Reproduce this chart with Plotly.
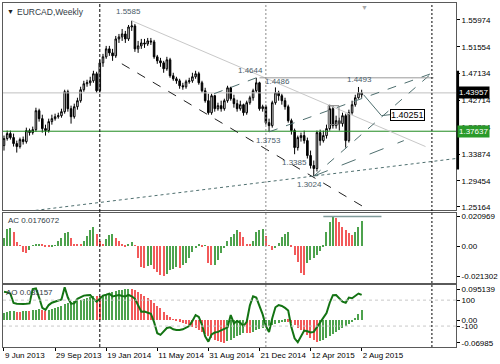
import plotly.graph_objects as go

# ---------------- data ----------------
bars = list(range(113))  # weekly bars starting 9 Jun 2013

open_ = [1.3527, 1.3643, 1.3725, 1.3659, 1.3560, 1.3511, 1.3626, 1.3593, 1.3774, 1.3741,
         1.3790, 1.4102, 1.3971, 1.3807, 1.3774, 1.3922, 1.3971, 1.4003, 1.4020, 1.4086,
         1.4415, 1.4135, 1.4003, 1.4168, 1.4267, 1.4448, 1.4546, 1.4562, 1.4595, 1.4711,
         1.4431, 1.4891, 1.4990, 1.5121, 1.5055, 1.5006, 1.5285, 1.5318, 1.5367, 1.5285,
         1.5482, 1.5499, 1.5121, 1.5170, 1.5219, 1.5203, 1.5252, 1.5236, 1.4990, 1.4924,
         1.4891, 1.4793, 1.4941, 1.4678, 1.4628, 1.4595, 1.4513, 1.4497, 1.4579, 1.4595,
         1.4661, 1.4711, 1.4562, 1.4431, 1.4267, 1.4069, 1.4349, 1.4135, 1.4185, 1.4135,
         1.4267, 1.4480, 1.4300, 1.4218, 1.4135, 1.4201, 1.4069, 1.4234, 1.4316, 1.4431,
         1.4562, 1.4135, 1.4168, 1.3905, 1.3856, 1.4234, 1.4398, 1.4349, 1.4267, 1.4168,
         1.3938, 1.3774, 1.3494, 1.3659, 1.3692, 1.3609, 1.3363, 1.3199, 1.3149, 1.3741,
         1.3609, 1.3692, 1.3807, 1.4135, 1.3856, 1.3938, 1.3889, 1.4020, 1.3609, 1.4069,
         1.4201, 1.4316, 1.4365]

close = [1.3643, 1.3725, 1.3659, 1.3560, 1.3511, 1.3626, 1.3593, 1.3774, 1.3741, 1.3790,
         1.4102, 1.3971, 1.3807, 1.3774, 1.3922, 1.3971, 1.4003, 1.4020, 1.4086, 1.4415,
         1.4135, 1.4003, 1.4168, 1.4267, 1.4448, 1.4546, 1.4562, 1.4595, 1.4711, 1.4431,
         1.4891, 1.4990, 1.5121, 1.5055, 1.5006, 1.5285, 1.5318, 1.5367, 1.5285, 1.5482,
         1.5499, 1.5121, 1.5170, 1.5219, 1.5203, 1.5252, 1.5236, 1.4990, 1.4924, 1.4891,
         1.4793, 1.4941, 1.4678, 1.4628, 1.4595, 1.4513, 1.4497, 1.4579, 1.4595, 1.4661,
         1.4711, 1.4562, 1.4431, 1.4267, 1.4069, 1.4349, 1.4135, 1.4185, 1.4135, 1.4267,
         1.4480, 1.4300, 1.4218, 1.4135, 1.4201, 1.4069, 1.4234, 1.4316, 1.4431, 1.4562,
         1.4135, 1.4168, 1.3905, 1.3856, 1.4234, 1.4398, 1.4349, 1.4267, 1.4168, 1.3938,
         1.3774, 1.3494, 1.3659, 1.3692, 1.3609, 1.3363, 1.3199, 1.3149, 1.3741, 1.3609,
         1.3692, 1.3807, 1.4135, 1.3856, 1.3938, 1.3889, 1.4020, 1.3609, 1.4069, 1.4201,
         1.4316, 1.4398, 1.43957]

high = [1.3692, 1.3774, 1.3774, 1.3725, 1.3609, 1.3659, 1.3676, 1.3823, 1.3807, 1.3840,
        1.4151, 1.4135, 1.4036, 1.3872, 1.3971, 1.4036, 1.4053, 1.4069, 1.4135, 1.4448,
        1.4448, 1.4185, 1.4218, 1.4316, 1.4497, 1.4595, 1.4612, 1.4661, 1.4760, 1.4744,
        1.4941, 1.5039, 1.5170, 1.5170, 1.5121, 1.5334, 1.5367, 1.5449, 1.5417, 1.5515,
        1.5585, 1.5532, 1.5252, 1.5285, 1.5285, 1.5301, 1.5301, 1.5269, 1.5022, 1.4973,
        1.4924, 1.4990, 1.4973, 1.4727, 1.4661, 1.4628, 1.4562, 1.4612, 1.4645, 1.4727,
        1.4760, 1.4744, 1.4595, 1.4480, 1.4382, 1.4382, 1.4365, 1.4234, 1.4267, 1.4300,
        1.4513, 1.4497, 1.4365, 1.4283, 1.4267, 1.4218, 1.4267, 1.4349, 1.4464, 1.4644,
        1.4579, 1.4201, 1.4201, 1.3971, 1.4267, 1.4486, 1.4431, 1.4382, 1.4316, 1.4201,
        1.3971, 1.3807, 1.3692, 1.3741, 1.3774, 1.3659, 1.3445, 1.3281, 1.3774, 1.3790,
        1.3774, 1.3872, 1.4201, 1.4185, 1.4020, 1.3987, 1.4069, 1.4053, 1.4119, 1.4267,
        1.4365, 1.4493, 1.4448]

low = [1.3445, 1.3609, 1.3626, 1.3511, 1.3412, 1.3478, 1.3544, 1.3560, 1.3692, 1.3708,
       1.3757, 1.3922, 1.3741, 1.3692, 1.3741, 1.3872, 1.3938, 1.3971, 1.3987, 1.4053,
       1.4086, 1.3889, 1.3971, 1.4119, 1.4234, 1.4415, 1.4497, 1.4513, 1.4562, 1.4398,
       1.4398, 1.4825, 1.4957, 1.5006, 1.4924, 1.4973, 1.5219, 1.5252, 1.5219, 1.5252,
       1.5417, 1.5072, 1.5055, 1.5121, 1.5137, 1.5170, 1.5186, 1.4957, 1.4875, 1.4825,
       1.4727, 1.4760, 1.4645, 1.4595, 1.4546, 1.4464, 1.4448, 1.4464, 1.4546, 1.4562,
       1.4628, 1.4530, 1.4398, 1.4234, 1.4036, 1.4036, 1.4086, 1.4102, 1.4086, 1.4102,
       1.4234, 1.4267, 1.4152, 1.4086, 1.4102, 1.4020, 1.4036, 1.4201, 1.4267, 1.4398,
       1.4102, 1.4086, 1.3872, 1.3753, 1.3823, 1.4201, 1.4267, 1.4201, 1.4119, 1.3905,
       1.3708, 1.3385, 1.3445, 1.3593, 1.3560, 1.3314, 1.3149, 1.3024, 1.3100, 1.3527,
       1.3577, 1.3643, 1.3774, 1.3807, 1.3807, 1.3774, 1.3840, 1.3494, 1.3577, 1.4036,
       1.4168, 1.4300, 1.4316]

ac = [0.0055, 0.0118, 0.0127, 0.0096, 0.0029, 0.0004, -0.0042, -0.0054, -0.0030, 0.0002,
      0.0008, 0.0015, 0.0010, -0.0008, -0.0012, -0.0010, 0.0003, 0.0035, 0.0055, 0.0090,
      0.0095, 0.0055, 0.0012, 0.0010, 0.0008, 0.0030, 0.0068, 0.0110, 0.0135, 0.0080,
      0.0030, 0.0012, 0.0045, 0.0075, 0.0085, 0.0055, 0.0030, 0.0008, -0.0005, 0.0012,
      0.0024, 0.0002, -0.0086, -0.0150, -0.0160, -0.0145, -0.0140, -0.0165, -0.0185, -0.0205,
      -0.0215, -0.0200, -0.0175, -0.0165, -0.0150, -0.0160, -0.0140, -0.0123, -0.0090, -0.0045,
      -0.0015, 0.0010, -0.0008, -0.0002, -0.0120, -0.0140, -0.0135, -0.0100, -0.0050, -0.0015,
      0.0030, 0.0060, 0.0085, 0.0108, 0.0095, 0.0058, 0.0010, 0.0005, 0.0035, 0.0095,
      0.0110, 0.0115, 0.0065, 0.0002, -0.0030, -0.0020, 0.0016, 0.0060, 0.0080, 0.0094,
      -0.0010, -0.0066, -0.0113, -0.0190, -0.0206, -0.0125, -0.0100, -0.0087, -0.0066, -0.0040,
      -0.0007, 0.0099, 0.0170, 0.0205, 0.0195, 0.0170, 0.0135, 0.0110, 0.0087, 0.0075,
      0.0099, 0.0133, 0.0176072]

ao = [0.020, 0.024, 0.027, 0.028, 0.026, 0.025, 0.027, 0.029, 0.028, 0.030,
      0.032, 0.034, 0.031, 0.028, 0.030, 0.033, 0.036, 0.040, 0.044, 0.048,
      0.052, 0.055, 0.058, 0.060, 0.062, 0.064, 0.066, 0.070, 0.075, 0.074,
      0.073, 0.076, 0.080, 0.083, 0.086, 0.089, 0.091, 0.093, 0.095, 0.095139,
      0.094, 0.091, 0.086, 0.080, 0.073, 0.067, 0.060, 0.052, 0.044, 0.036,
      0.026, 0.016, 0.008, 0.002, -0.003, -0.006, -0.010, -0.012, -0.015, -0.020,
      -0.026, -0.032, -0.038, -0.044, -0.050, -0.055, -0.060, -0.064, -0.067, -0.069,
      -0.065, -0.060, -0.055, -0.050, -0.045, -0.039, -0.040, -0.041, -0.036, -0.032,
      -0.028, -0.024, -0.020, -0.017, -0.015, -0.012, -0.009, -0.007, -0.005, -0.006,
      -0.010, -0.016, -0.023, -0.030, -0.038, -0.046, -0.054, -0.061, -0.066, -0.064,
      -0.060, -0.055, -0.049, -0.043, -0.037, -0.031, -0.025, -0.019, -0.013, -0.007,
      0.004, 0.018, 0.031157]

cci = [164, 160, 150, 78, 72, 70, 70, 72, 75, 185,
       190, 120, 40, 25, 62, 80, 90, 95, 105, 200,
       120, 72, 75, 110, 125, 135, 138, 140, 110, 88,
       110, 135, 142, 150, 128, 135, 140, 132, 128, 140,
       130, 110, 60, 10, 12, 5, -5, -70, -155, -168,
       -140, -115, -110, -125, -130, -131, -125, -110, -100, -60,
       -15, -30, -90, -180, -220, -165, -150, -145, -135, -125,
       -110, -15, -80, -60, -75, -100, -67, 60, 130, 120,
       60, -10, -100, -146, -40, 45, 62, 55, 40, 20,
       -110, -195, -225, -175, -135, -140, -150, -145, -110, -70,
       -40, 0, 80, 138, 140, 110, 88, 80, 120, 115,
       135, 151, 140]

tick_bars = [0, 16, 32, 48, 64, 80, 96, 112]
tick_text = ["9 Jun 2013", "29 Sep 2013", "19 Jan 2014", "11 May 2014",
             "31 Aug 2014", "21 Dec 2014", "12 Apr 2015", "2 Aug 2015"]

price_ticks = [1.55974, 1.51554, 1.47134, 1.42714, 1.38294, 1.33874, 1.29454, 1.25164]
ac_ticks = [0.020969, 0.0, -0.021302]
ac_tick_text = ["0.020969", "0.00", "-0.021302"]
ao_ticks = [0.095139, 0.0, -0.06985]
ao_tick_text = ["0.095139", "0.00", "-0.06985"]
cci_levels = [100, -100]

bid_price = 1.43957
green_level = 1.37637
separators = [30, 82, 134]  # year boundaries

# extremes marked on chart: (bar, price, label)
extremes = [(40, 1.5585, "1.5585"), (79, 1.4644, "1.4644"), (85, 1.4486, "1.4486"),
            (111, 1.4493, "1.4493"), (83, 1.3753, "1.3753"), (91, 1.3385, "1.3385"),
            (97, 1.3024, "1.3024")]

# drawn objects (bar, price) endpoints
trend_lines = [
    ((40, 1.5585), (132, 1.3511), "#c8c8c8", "solid", 1),
    ((36.9, 1.4875), (112.9, 1.2508), "#202020", "dash", 1),
    ((9.85, 1.2459), (141.5, 1.3314), "#4f6f6f", "dot", 1),
    ((65.8, 1.4382), (79, 1.4644), "#4f6f6f", "dash", 1),
    ((83, 1.3753), (134.5, 1.4727), "#4f6f6f", "dash", 1),
    ((97, 1.3024), (134.5, 1.4745), "#4f6f6f", "dash", 1),
    ((97, 1.3024), (125.2, 1.3609), "#4f6f6f", "longdash", 1),
    ((80, 1.4644), (134.5, 1.4644), "#9a9a9a", "solid", 1),
]
target_path = [(112.6, 1.4365), (118.2, 1.4020), (120.9, 1.4037)]
target_label = "1.40251"
box_bars = (101.5, 104.9)
box_prices = (1.3873, 1.4184)
ac_level_bars = (100, 118.2)

# ---------------- layout helpers ----------------
W, H = 500, 364
ML, MR, MT, MB = 2, 37, 2, 17
PW, PH = W - ML - MR, H - MT - MB
FONT = "Liberation Sans, Arial, sans-serif"
LBL = "#4a5c6a"


def dom(top_px, bot_px):
    return [(H - MB - bot_px) / PH, (H - MB - top_px) / PH]


def px_x(px):
    return (px - ML) / PW


x_range = [-0.31, 141.54]
main_range = [1.2459, 1.5877]
ac_range = [-0.02625, 0.02308]
ao_range = [-0.0822, 0.1072]
cci_range = [-261.5, 215.4]

GREEN, RED = "#4da24d", "#f25a5a"
ac_col = [GREEN if i == 0 or ac[i] >= ac[i - 1] else RED for i in range(len(ac))]
ao_col = [GREEN if i == 0 or ao[i] >= ao[i - 1] else RED for i in range(len(ao))]

fig = go.Figure()
fig.add_trace(go.Candlestick(
    x=bars, open=open_, high=high, low=low, close=close,
    increasing=dict(line=dict(color="black", width=1), fillcolor="white"),
    decreasing=dict(line=dict(color="black", width=1), fillcolor="black"),
    whiskerwidth=0, xaxis="x", yaxis="y", hoverinfo="skip", showlegend=False))
fig.add_trace(go.Bar(x=bars, y=ac, marker=dict(color=ac_col, line_width=0), width=0.36,
                     xaxis="x2", yaxis="y2", hoverinfo="skip", showlegend=False))
fig.add_trace(go.Bar(x=bars, y=ao, marker=dict(color=ao_col, line_width=0), width=0.36,
                     xaxis="x3", yaxis="y3", hoverinfo="skip", showlegend=False))
fig.add_trace(go.Scatter(x=bars, y=cci, mode="lines", line=dict(color="#137313", width=2),
                         xaxis="x3", yaxis="y4", hoverinfo="skip", showlegend=False))
fig.add_trace(go.Scatter(x=[p[0] for p in target_path], y=[p[1] for p in target_path],
                         mode="lines", line=dict(color="#4f6f6f", width=1),
                         xaxis="x", yaxis="y", hoverinfo="skip", showlegend=False))

frame = dict(showgrid=False, zeroline=False, showline=True, mirror=True,
             linecolor="#5a5a5a", linewidth=1)
tickf = dict(family=FONT, size=8, color="black")

fig.update_layout(
    width=W, height=H, margin=dict(l=ML, r=MR, t=MT, b=MB),
    paper_bgcolor="white", plot_bgcolor="white", showlegend=False,
    hovermode=False, bargap=0, font=dict(family=FONT, size=8, color="black"),
    xaxis=dict(domain=[0, 1], range=x_range, anchor="y", showticklabels=False,
               rangeslider=dict(visible=False), **frame),
    xaxis2=dict(domain=[0, 1], range=x_range, anchor="y2", matches="x",
                showticklabels=False, **frame),
    xaxis3=dict(domain=[0, 1], range=x_range, anchor="y3", matches="x",
                tickmode="array", tickvals=tick_bars, ticktext=tick_text,
                ticks="outside", ticklen=3, tickcolor="black", tickangle=0,
                ticklabelposition="outside right", tickfont=tickf, **frame),
    yaxis=dict(domain=dom(MT, 210), range=main_range, side="right", anchor="x",
               tickmode="array", tickvals=price_ticks,
               ticktext=[f"{v:.5f}" for v in price_ticks],
               ticks="outside", ticklen=3, tickcolor="black", tickfont=tickf, **frame),
    yaxis2=dict(domain=dom(213, 283), range=ac_range, side="right", anchor="x2",
                tickmode="array", tickvals=ac_ticks, ticktext=ac_tick_text,
                ticks="outside", ticklen=3, tickcolor="black", tickfont=tickf, **frame),
    yaxis3=dict(domain=dom(285, H - MB), range=ao_range, side="right", anchor="x3",
                tickmode="array", tickvals=ao_ticks, ticktext=ao_tick_text,
                ticks="outside", ticklen=3, tickcolor="black", tickfont=tickf, **frame),
    yaxis4=dict(range=cci_range, overlaying="y3", side="right", anchor="x3",
                tickmode="array", tickvals=cci_levels,
                ticktext=[str(v) for v in cci_levels],
                ticks="outside", ticklen=3, tickcolor="black", tickfont=tickf,
                showgrid=False, zeroline=False, showline=False),
)

shapes = []
shapes.append(dict(type="line", xref="x domain", x0=0, x1=1, yref="y", y0=bid_price, y1=bid_price,
                   line=dict(color="#c0c0c0", width=1)))
shapes.append(dict(type="line", xref="x domain", x0=0, x1=1, yref="y", y0=green_level, y1=green_level,
                   line=dict(color="#1e8a1e", width=1)))
for (a, b, col, dash, w) in trend_lines:
    shapes.append(dict(type="line", xref="x", yref="y", x0=a[0], y0=a[1], x1=b[0], y1=b[1],
                       line=dict(color=col, width=w, dash=dash)))
shapes.append(dict(type="rect", xref="x", yref="y", x0=box_bars[0], x1=box_bars[1],
                   y0=box_prices[0], y1=box_prices[1], line=dict(color="#808080", width=1)))
shapes.append(dict(type="line", xref="x2", yref="y2", x0=ac_level_bars[0], x1=ac_level_bars[1],
                   y0=ac_ticks[0], y1=ac_ticks[0], line=dict(color="#7f9a9a", width=1.5)))
for lv in cci_levels:
    shapes.append(dict(type="line", xref="x3 domain", x0=0, x1=1, yref="y4", y0=lv, y1=lv,
                       line=dict(color="#c8c8c8", width=1, dash="dot")))
sep_styles = [("#000000", "3px,2px"), ("#8a8a8a", "2px,2px"), ("#000000", "2px,2px")]
for s, (col, dash) in zip(separators, sep_styles):
    shapes.append(dict(type="line", xref="x", yref="paper", x0=s, x1=s, y0=0, y1=1,
                       line=dict(color=col, width=1, dash=dash)))
shapes.append(dict(type="line", xref="paper", yref="y", x0=1.004, x1=1.004, y0=1.3133, y1=1.4760,
                   line=dict(color="black", width=2.5)))

ann = []
ann.append(dict(xref="paper", yref="paper", x=px_x(4), y=1, xanchor="left", yanchor="top",
                yshift=-3, text="▼", showarrow=False, font=dict(size=7, color="#202020")))
ann.append(dict(xref="paper", yref="paper", x=px_x(14), y=1, xanchor="left", yanchor="top",
                yshift=-2, text="EURCAD,Weekly", showarrow=False,
                font=dict(family=FONT, size=8.5, color="#303a44")))
ann.append(dict(xref="x", yref="paper", x=113, y=1, xanchor="center", yanchor="top",
                yshift=1, text="▼", showarrow=False, font=dict(size=7, color="#a8a8a8")))
ann.append(dict(xref="paper", yref="y2 domain", x=px_x(5), y=1, xanchor="left", yanchor="top",
                yshift=-1, text="AC 0.0176072", showarrow=False,
                font=dict(family=FONT, size=8, color="#303a44")))
ann.append(dict(xref="paper", yref="y3 domain", x=px_x(3), y=1, xanchor="left", yanchor="top",
                yshift=-1, text="AO 0.031157", showarrow=False,
                font=dict(family=FONT, size=8, color="#303a44")))
offsets = {"1.5585": (-3, 9), "1.4644": (-6, 7), "1.4486": (2, 6), "1.4493": (1, 7),
           "1.3753": (-1, -9), "1.3385": (0, -8), "1.3024": (-4, -8)}
for (b, p, t) in extremes:
    dx, dy = offsets[t]
    ann.append(dict(xref="x", yref="y", x=b, y=p, xshift=dx, yshift=dy, text=t,
                    showarrow=False, xanchor="center", yanchor="middle",
                    font=dict(family=FONT, size=8, color=LBL)))
ann.append(dict(xref="x", yref="y", x=target_path[-1][0], y=float(target_label), xanchor="left",
                yanchor="middle", text=target_label, showarrow=False, bgcolor="white",
                bordercolor="black", borderwidth=1, borderpad=0,
                font=dict(family=FONT, size=9, color="black")))
ann.append(dict(xref="paper", yref="y", x=1, xshift=1, y=bid_price, xanchor="left",
                yanchor="middle", text=f"{bid_price:.5f}", showarrow=False, bgcolor="black",
                borderpad=1, font=dict(family=FONT, size=8, color="white")))
ann.append(dict(xref="paper", yref="y", x=1, xshift=1, y=green_level, xanchor="left",
                yanchor="middle", text=f"{green_level:.5f}", showarrow=False, bgcolor="#2a9a2a",
                borderpad=1, font=dict(family=FONT, size=8, color="white")))

fig.update_layout(shapes=shapes, annotations=ann)
fig.write_html("out.html", config={"displayModeBar": False})
